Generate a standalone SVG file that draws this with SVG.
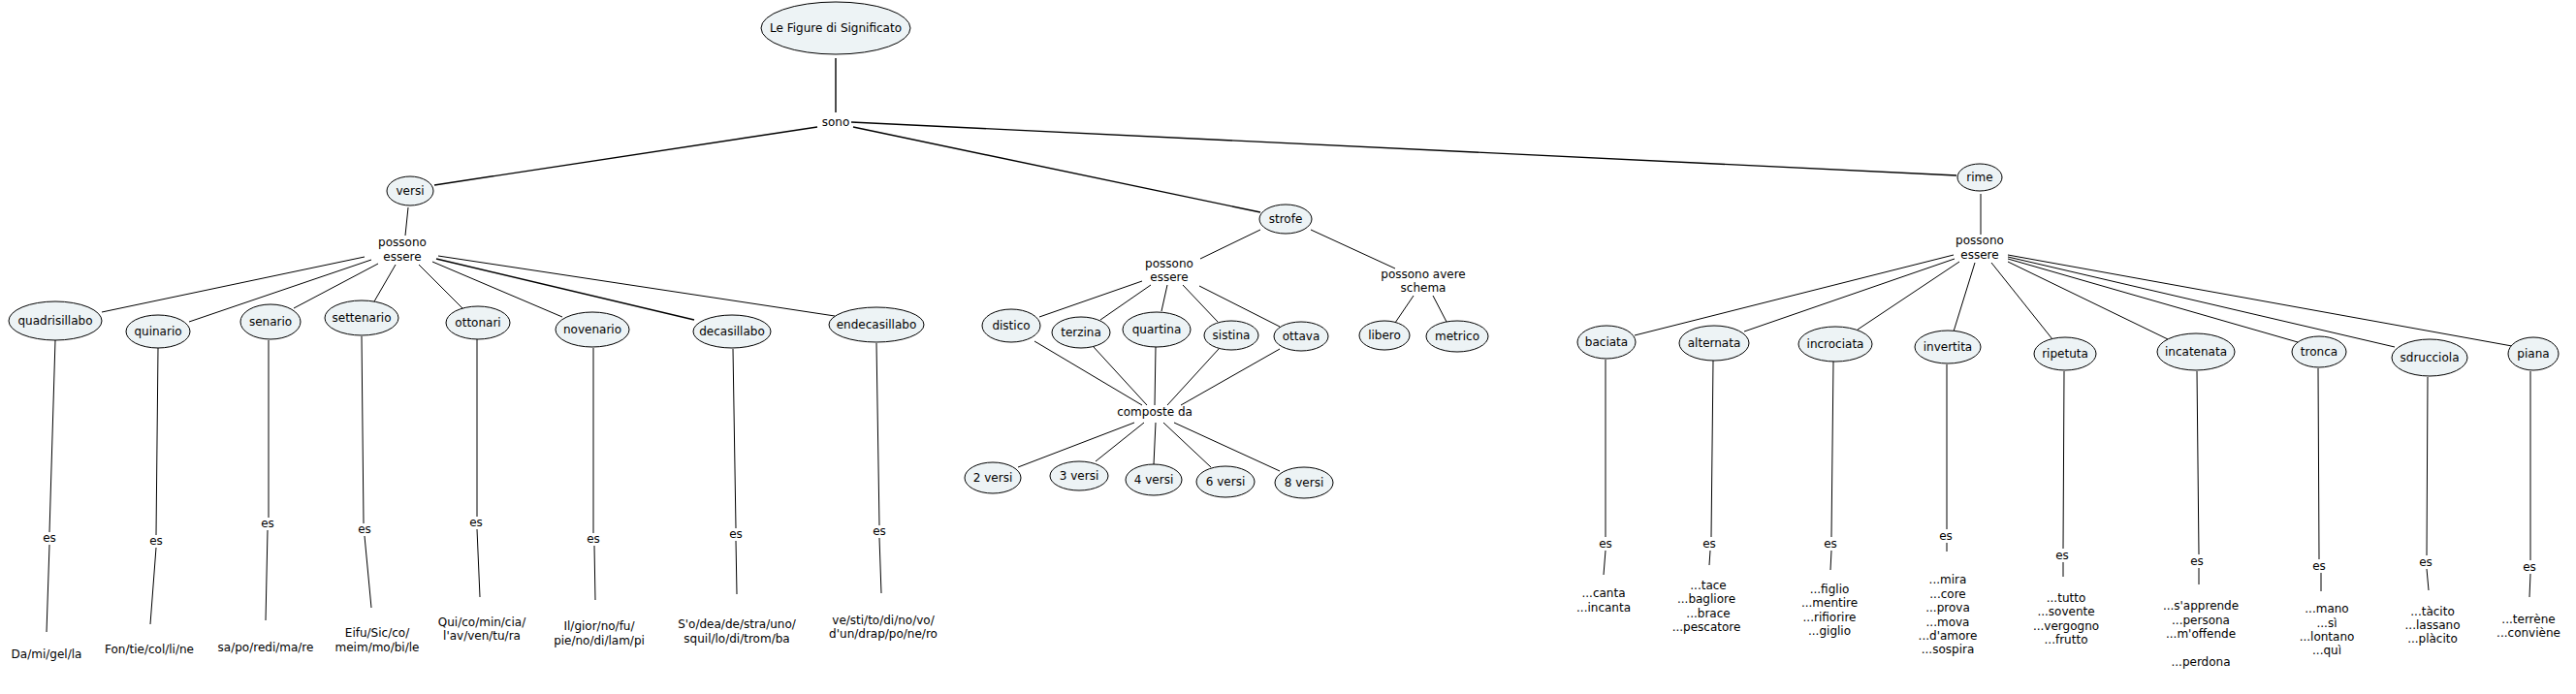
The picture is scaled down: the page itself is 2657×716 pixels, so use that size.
<svg xmlns="http://www.w3.org/2000/svg" width="2657" height="716" viewBox="0 0 2657 716">
<style>
  text { font-family: "DejaVu Sans", Verdana, sans-serif; font-size: 12px; fill: #000; text-anchor: middle; }
  .node ellipse { fill: #edf3f5; stroke: #000; stroke-width: 1; }
  #connectors line { stroke: #000; stroke-width: 1; fill: none; }
  #connectors .thick { stroke-width: 1.4; }
</style>
<rect width="2657" height="716" fill="#fff"/>
<g id="connectors">
  <line class="thick" x1="862" y1="60" x2="862" y2="116"/>
  <line class="thick" x1="843" y1="131" x2="448" y2="191"/>
  <line class="thick" x1="880" y1="131" x2="1300" y2="219"/>
  <line class="thick" x1="878" y1="126" x2="2018" y2="181"/>
  <line x1="421" y1="214" x2="418" y2="243"/>
  <line x1="376" y1="265" x2="105" y2="322"/>
  <line x1="383" y1="268" x2="195" y2="332"/>
  <line x1="390" y1="272" x2="303" y2="318"/>
  <line x1="408" y1="273" x2="386" y2="311"/>
  <line x1="432" y1="273" x2="477" y2="318"/>
  <line x1="446" y1="270" x2="580" y2="327"/>
  <line class="thick" x1="450" y1="267" x2="716" y2="330"/>
  <line x1="452" y1="264" x2="861" y2="326"/>
  <line x1="57" y1="351" x2="51" y2="549"/>
  <line x1="51" y1="562" x2="48" y2="652"/>
  <line x1="163" y1="359" x2="161" y2="552"/>
  <line x1="161" y1="565" x2="155" y2="644"/>
  <line x1="277" y1="351" x2="277" y2="534"/>
  <line x1="276" y1="547" x2="274" y2="640"/>
  <line x1="373" y1="347" x2="375" y2="540"/>
  <line x1="376" y1="553" x2="383" y2="627"/>
  <line x1="492" y1="350" x2="492" y2="533"/>
  <line x1="492" y1="546" x2="495" y2="616"/>
  <line x1="612" y1="359" x2="612" y2="550"/>
  <line x1="613" y1="563" x2="614" y2="619"/>
  <line x1="756" y1="360" x2="759" y2="545"/>
  <line x1="759" y1="558" x2="760" y2="613"/>
  <line x1="904" y1="354" x2="907" y2="542"/>
  <line x1="907" y1="555" x2="909" y2="612"/>
  <line x1="1300" y1="237" x2="1238" y2="267"/>
  <line x1="1352" y1="237" x2="1439" y2="277"/>
  <line x1="1178" y1="290" x2="1072" y2="327"/>
  <line x1="1187" y1="294" x2="1135" y2="330"/>
  <line x1="1204" y1="294" x2="1198" y2="321"/>
  <line x1="1220" y1="294" x2="1256" y2="332"/>
  <line x1="1237" y1="295" x2="1320" y2="337"/>
  <line x1="1458" y1="305" x2="1439" y2="333"/>
  <line x1="1478" y1="305" x2="1492" y2="332"/>
  <line x1="1067" y1="352" x2="1178" y2="418"/>
  <line x1="1128" y1="358" x2="1183" y2="418"/>
  <line x1="1192" y1="358" x2="1191" y2="418"/>
  <line x1="1257" y1="360" x2="1204" y2="418"/>
  <line x1="1320" y1="360" x2="1218" y2="418"/>
  <line x1="1170" y1="436" x2="1050" y2="482"/>
  <line x1="1180" y1="436" x2="1130" y2="476"/>
  <line x1="1192" y1="436" x2="1190" y2="479"/>
  <line x1="1200" y1="436" x2="1249" y2="482"/>
  <line x1="1211" y1="436" x2="1320" y2="486"/>
  <line x1="2043" y1="200" x2="2043" y2="242"/>
  <line x1="2015" y1="263" x2="1686" y2="346"/>
  <line x1="2016" y1="267" x2="1799" y2="342"/>
  <line x1="2021" y1="270" x2="1916" y2="340"/>
  <line x1="2037" y1="271" x2="2015" y2="342"/>
  <line x1="2054" y1="271" x2="2117" y2="350"/>
  <line x1="2071" y1="270" x2="2236" y2="350"/>
  <line x1="2071" y1="267" x2="2370" y2="353"/>
  <line x1="2071" y1="265" x2="2470" y2="358"/>
  <line x1="2071" y1="263" x2="2591" y2="357"/>
  <line x1="1656" y1="371" x2="1656" y2="554"/>
  <line x1="1656" y1="568" x2="1654" y2="593"/>
  <line x1="1767" y1="372" x2="1765" y2="554"/>
  <line x1="1764" y1="568" x2="1763" y2="583"/>
  <line x1="1891" y1="373" x2="1889" y2="554"/>
  <line x1="1889" y1="568" x2="1888" y2="588"/>
  <line x1="2008" y1="376" x2="2008" y2="546"/>
  <line x1="2008" y1="560" x2="2008" y2="569"/>
  <line x1="2129" y1="383" x2="2128" y2="566"/>
  <line x1="2128" y1="580" x2="2128" y2="595"/>
  <line x1="2266" y1="383" x2="2268" y2="572"/>
  <line x1="2268" y1="586" x2="2268" y2="603"/>
  <line x1="2391" y1="380" x2="2392" y2="577"/>
  <line x1="2394" y1="591" x2="2394" y2="610"/>
  <line x1="2504" y1="389" x2="2503" y2="573"/>
  <line x1="2503" y1="587" x2="2505" y2="609"/>
  <line x1="2610" y1="383" x2="2610" y2="578"/>
  <line x1="2610" y1="592" x2="2609" y2="616"/>
</g>
<g id="title" class="node"><ellipse cx="862" cy="29" rx="77" ry="27"/><text x="862" y="33">Le Figure di Significato</text></g>
<g id="lp-sono"><text x="862" y="130">sono</text></g>
<g id="versi" class="node"><ellipse cx="423" cy="197" rx="24" ry="15"/><text x="423" y="201">versi</text></g>
<g id="strofe" class="node"><ellipse cx="1326" cy="226" rx="27" ry="15"/><text x="1326" y="230">strofe</text></g>
<g id="rime" class="node"><ellipse cx="2042" cy="183" rx="23" ry="14"/><text x="2042" y="187">rime</text></g>
<g id="lp-versi"><text x="415" y="254">possono</text><text x="415" y="269">essere</text></g>
<g id="lp-strofe1"><text x="1206" y="276">possono</text><text x="1206" y="290">essere</text></g>
<g id="lp-strofe2"><text x="1468" y="287">possono avere</text><text x="1468" y="301">schema</text></g>
<g id="lp-composte"><text x="1191" y="429">composte da</text></g>
<g id="lp-rime"><text x="2042" y="252">possono</text><text x="2042" y="267">essere</text></g>
<g id="quadrisillabo" class="node"><ellipse cx="57" cy="331" rx="48" ry="20"/><text x="57" y="335">quadrisillabo</text></g>
<g id="quinario" class="node"><ellipse cx="163" cy="342" rx="33" ry="17"/><text x="163" y="346">quinario</text></g>
<g id="senario" class="node"><ellipse cx="279" cy="332" rx="31" ry="18"/><text x="279" y="336">senario</text></g>
<g id="settenario" class="node"><ellipse cx="373" cy="328" rx="38" ry="18"/><text x="373" y="332">settenario</text></g>
<g id="ottonari" class="node"><ellipse cx="493" cy="333" rx="33" ry="17"/><text x="493" y="337">ottonari</text></g>
<g id="novenario" class="node"><ellipse cx="611" cy="340" rx="38" ry="18"/><text x="611" y="344">novenario</text></g>
<g id="decasillabo" class="node"><ellipse cx="755" cy="342" rx="40" ry="17"/><text x="755" y="346">decasillabo</text></g>
<g id="endecasillabo" class="node"><ellipse cx="904" cy="335" rx="49" ry="18"/><text x="904" y="339">endecasillabo</text></g>
<g id="es-v1"><text x="51" y="559">es</text></g>
<g id="es-v2"><text x="161" y="562">es</text></g>
<g id="es-v3"><text x="276" y="544">es</text></g>
<g id="es-v4"><text x="376" y="550">es</text></g>
<g id="es-v5"><text x="491" y="543">es</text></g>
<g id="es-v6"><text x="612" y="560">es</text></g>
<g id="es-v7"><text x="759" y="555">es</text></g>
<g id="es-v8"><text x="907" y="552">es</text></g>
<g id="ex-v1"><text x="48" y="679">Da/mi/gel/la</text></g>
<g id="ex-v2"><text x="154" y="674">Fon/tie/col/li/ne</text></g>
<g id="ex-v3"><text x="274" y="672">sa/po/redi/ma/re</text></g>
<g id="ex-v4"><text x="389" y="657">Eifu/Sic/co/</text><text x="389" y="672">meim/mo/bi/le</text></g>
<g id="ex-v5"><text x="497" y="646">Qui/co/min/cia/</text><text x="497" y="660">l'av/ven/tu/ra</text></g>
<g id="ex-v6"><text x="618" y="650">Il/gior/no/fu/</text><text x="618" y="665">pie/no/di/lam/pi</text></g>
<g id="ex-v7"><text x="760" y="648">S'o/dea/de/stra/uno/</text><text x="760" y="663">squil/lo/di/trom/ba</text></g>
<g id="ex-v8"><text x="911" y="644">ve/sti/to/di/no/vo/</text><text x="911" y="658">d'un/drap/po/ne/ro</text></g>
<g id="distico" class="node"><ellipse cx="1043" cy="336" rx="30" ry="17"/><text x="1043" y="340">distico</text></g>
<g id="terzina" class="node"><ellipse cx="1115" cy="343" rx="30" ry="16"/><text x="1115" y="347">terzina</text></g>
<g id="quartina" class="node"><ellipse cx="1193" cy="340" rx="35" ry="18"/><text x="1193" y="344">quartina</text></g>
<g id="sistina" class="node"><ellipse cx="1270" cy="346" rx="28" ry="15"/><text x="1270" y="350">sistina</text></g>
<g id="ottava" class="node"><ellipse cx="1342" cy="347" rx="28" ry="15"/><text x="1342" y="351">ottava</text></g>
<g id="libero" class="node"><ellipse cx="1428" cy="346" rx="26" ry="15"/><text x="1428" y="350">libero</text></g>
<g id="metrico" class="node"><ellipse cx="1503" cy="347" rx="32" ry="16"/><text x="1503" y="351">metrico</text></g>
<g id="v2" class="node"><ellipse cx="1024" cy="493" rx="29" ry="16"/><text x="1024" y="497">2 versi</text></g>
<g id="v3" class="node"><ellipse cx="1113" cy="491" rx="30" ry="15"/><text x="1113" y="495">3 versi</text></g>
<g id="v4" class="node"><ellipse cx="1190" cy="495" rx="29" ry="16"/><text x="1190" y="499">4 versi</text></g>
<g id="v6" class="node"><ellipse cx="1264" cy="497" rx="30" ry="16"/><text x="1264" y="501">6 versi</text></g>
<g id="v8" class="node"><ellipse cx="1345" cy="498" rx="30" ry="16"/><text x="1345" y="502">8 versi</text></g>
<g id="baciata" class="node"><ellipse cx="1657" cy="353" rx="30" ry="17"/><text x="1657" y="357">baciata</text></g>
<g id="alternata" class="node"><ellipse cx="1768" cy="354" rx="36" ry="18"/><text x="1768" y="358">alternata</text></g>
<g id="incrociata" class="node"><ellipse cx="1893" cy="355" rx="38" ry="18"/><text x="1893" y="359">incrociata</text></g>
<g id="invertita" class="node"><ellipse cx="2009" cy="358" rx="34" ry="17"/><text x="2009" y="362">invertita</text></g>
<g id="ripetuta" class="node"><ellipse cx="2130" cy="365" rx="32" ry="17"/><text x="2130" y="369">ripetuta</text></g>
<g id="incatenata" class="node"><ellipse cx="2265" cy="363" rx="40" ry="19"/><text x="2265" y="367">incatenata</text></g>
<g id="tronca" class="node"><ellipse cx="2392" cy="363" rx="28" ry="16"/><text x="2392" y="367">tronca</text></g>
<g id="sdrucciola" class="node"><ellipse cx="2506" cy="369" rx="39" ry="19"/><text x="2506" y="373">sdrucciola</text></g>
<g id="piana" class="node"><ellipse cx="2613" cy="365" rx="26" ry="17"/><text x="2613" y="369">piana</text></g>
<g id="es-r1"><text x="1656" y="565">es</text></g>
<g id="es-r2"><text x="1763" y="565">es</text></g>
<g id="es-r3"><text x="1888" y="565">es</text></g>
<g id="es-r4"><text x="2007" y="557">es</text></g>
<g id="es-r5"><text x="2127" y="577">es</text></g>
<g id="es-r6"><text x="2266" y="583">es</text></g>
<g id="es-r7"><text x="2392" y="588">es</text></g>
<g id="es-r8"><text x="2502" y="584">es</text></g>
<g id="es-r9"><text x="2609" y="589">es</text></g>
<g id="ex-r1"><text x="1654" y="616">...canta</text><text x="1654" y="631">...incanta</text></g>
<g id="ex-r2"><text x="1762" y="608">...tace</text><text x="1760" y="622">...bagliore</text><text x="1762" y="637">...brace</text><text x="1760" y="651">...pescatore</text></g>
<g id="ex-r3"><text x="1887" y="612">...figlio</text><text x="1887" y="626">...mentire</text><text x="1887" y="641">...rifiorire</text><text x="1887" y="655">...giglio</text></g>
<g id="ex-r4"><text x="2009" y="602">...mira</text><text x="2009" y="617">...core</text><text x="2009" y="631">...prova</text><text x="2009" y="646">...mova</text><text x="2009" y="660">...d'amore</text><text x="2009" y="674">...sospira</text></g>
<g id="ex-r5"><text x="2131" y="621">...tutto</text><text x="2131" y="635">...sovente</text><text x="2131" y="650">...vergogno</text><text x="2131" y="664">...frutto</text></g>
<g id="ex-r6"><text x="2270" y="629">...s'apprende</text><text x="2270" y="644">...persona</text><text x="2270" y="658">...m'offende</text><text x="2270" y="687">...perdona</text></g>
<g id="ex-r7"><text x="2400" y="632">...mano</text><text x="2400" y="647">...sì</text><text x="2400" y="661">...lontano</text><text x="2400" y="675">...quì</text></g>
<g id="ex-r8"><text x="2509" y="635">...tàcito</text><text x="2509" y="649">...lassano</text><text x="2509" y="663">...plàcito</text></g>
<g id="ex-r9"><text x="2608" y="643">...terrène</text><text x="2608" y="657">...conviène</text></g>
</svg>
